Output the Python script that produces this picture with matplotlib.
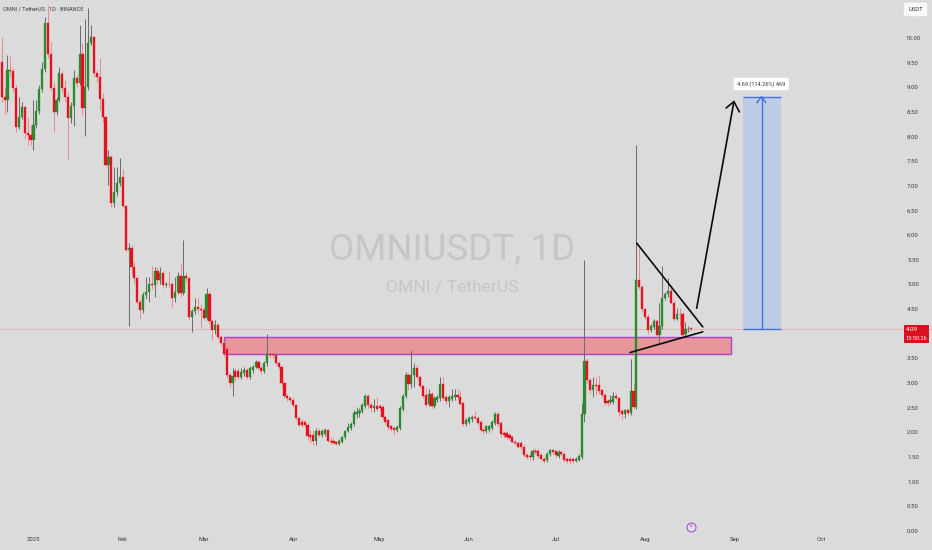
import numpy as np
import matplotlib
matplotlib.use("Agg")
import matplotlib.pyplot as plt
from matplotlib.patches import Rectangle

# Daily candles, first one is 2024-12-21 (day -11; day 0 = 2025-01-01)
first_day = -11
opens = [9.52,8.81,8.74,9.35,9.34,8.98,8.20,8.40,8.59,8.07,8.03,7.93,8.23,8.52,8.96,9.37,10.30,9.67,8.98,8.49,
 8.74,9.27,8.98,8.81,8.37,8.61,9.18,9.09,9.67,8.57,9.01,9.90,10.01,9.28,9.21,8.76,8.39,7.42,7.59,6.65,
 6.88,7.05,7.17,6.59,5.70,5.74,5.35,5.14,4.65,4.48,4.79,4.84,5.01,4.99,5.27,5.09,5.23,4.99,5.01,5.00,
 4.72,4.84,5.18,4.82,5.18,5.13,4.35,4.46,4.55,4.50,4.48,4.33,4.81,4.25,4.08,4.18,3.94,3.81,3.70,3.16,
 3.00,3.25,3.25,3.13,3.20,3.27,3.12,3.27,3.33,3.43,3.30,3.25,3.40,3.60,3.59,3.57,3.40,3.32,3.00,2.74,
 2.70,2.66,2.56,2.29,2.22,2.22,2.16,1.95,1.95,1.83,2.02,1.95,1.97,2.04,1.83,1.83,1.80,1.77,1.81,1.90,
 2.02,2.08,2.17,2.37,2.39,2.44,2.54,2.74,2.56,2.49,2.54,2.54,2.52,2.32,2.25,2.12,2.08,2.04,2.08,2.47,
 2.73,3.16,2.98,3.16,3.31,3.12,2.94,2.76,2.58,2.78,2.54,2.66,2.69,2.98,2.71,2.64,2.68,2.71,2.76,2.72,
 2.59,2.17,2.22,2.27,2.32,2.30,2.22,2.05,2.02,2.05,2.08,2.20,2.37,2.20,1.98,1.98,1.95,1.91,1.81,1.79,
 1.79,1.71,1.54,1.52,1.51,1.62,1.63,1.54,1.47,1.44,1.56,1.64,1.63,1.52,1.61,1.57,1.47,1.47,1.47,1.43,
 1.45,1.51,2.37,3.45,3.06,2.86,2.96,2.96,2.85,2.76,2.64,2.62,2.62,2.74,2.69,2.44,2.37,2.45,2.40,2.83,
 2.52,5.09,4.94,4.50,4.35,4.08,4.14,4.25,3.98,4.15,4.72,4.80,4.86,4.63,4.30,4.41,4.40,3.99,4.09,4.11]
closes = [8.81,8.74,9.35,9.34,8.98,8.20,8.40,8.59,8.07,8.03,7.93,8.23,8.52,8.96,9.37,10.30,9.67,8.98,8.49,8.74,
 9.28,8.98,8.81,8.37,8.61,9.18,9.09,9.67,8.57,9.01,9.90,10.01,9.28,9.21,8.76,8.39,7.42,7.59,6.65,6.88,
 7.05,7.17,6.59,5.70,5.74,5.35,5.14,4.65,4.48,4.79,4.84,5.01,4.99,5.27,5.09,5.23,4.99,5.01,5.00,4.72,
 4.84,5.18,4.82,5.18,5.13,4.35,4.46,4.55,4.50,4.48,4.33,4.81,4.25,4.08,4.18,3.94,3.81,3.60,3.16,3.00,
 3.14,3.13,3.13,3.23,3.27,3.12,3.30,3.33,3.43,3.30,3.25,3.40,3.59,3.57,3.57,3.40,3.32,3.00,2.74,2.69,
 2.66,2.56,2.29,2.15,2.15,2.15,1.93,1.91,1.83,2.02,1.95,2.02,2.04,1.83,1.81,1.79,1.77,1.83,1.90,2.02,
 2.10,2.18,2.39,2.42,2.44,2.56,2.74,2.56,2.49,2.54,2.48,2.49,2.32,2.22,2.10,2.06,2.04,2.10,2.49,2.74,
 3.16,2.98,3.16,3.31,3.12,2.94,2.74,2.56,2.78,2.54,2.69,2.71,2.98,2.69,2.64,2.71,2.74,2.76,2.71,2.58,
 2.18,2.25,2.29,2.32,2.29,2.20,2.04,2.02,2.12,2.12,2.22,2.37,2.18,1.97,1.95,1.91,1.88,1.81,1.78,1.71,
 1.70,1.54,1.51,1.51,1.63,1.60,1.52,1.47,1.43,1.56,1.64,1.61,1.54,1.61,1.56,1.44,1.43,1.41,1.43,1.47,
 1.52,2.37,3.45,3.06,2.86,2.96,2.95,2.83,2.76,2.59,2.60,2.66,2.73,2.69,2.42,2.37,2.45,2.40,2.83,2.52,
 5.09,4.94,4.50,4.34,4.08,4.15,4.25,3.98,4.15,4.73,4.81,4.87,4.63,4.30,4.40,4.40,3.98,4.09,4.10,4.09]
highs = [10.01,9.01,9.65,9.63,9.40,9.05,8.81,8.71,8.62,8.40,8.23,8.74,8.74,9.05,9.52,10.43,10.67,9.92,9.10,8.80,
 9.42,9.32,9.15,8.90,8.70,9.35,9.25,10.26,9.89,10.38,10.60,10.26,10.03,9.35,9.59,8.88,8.42,7.73,7.62,7.39,
 7.39,7.56,7.34,6.62,5.85,5.80,5.45,5.15,4.70,4.85,5.16,5.16,5.37,5.36,5.36,5.36,5.28,5.05,5.28,5.05,
 5.16,5.25,5.43,5.90,5.25,5.15,4.50,4.72,4.72,4.60,4.55,4.92,4.85,4.30,4.28,4.22,3.98,3.85,3.75,3.20,
 3.30,3.30,3.30,3.30,3.32,3.30,3.34,3.37,3.47,3.46,3.35,3.44,3.99,3.65,3.62,3.60,3.44,3.35,3.02,2.78,
 2.74,2.70,2.58,2.32,2.28,2.25,2.20,2.05,2.05,2.08,2.08,2.06,2.08,2.07,1.90,1.88,1.83,1.87,1.93,2.05,
 2.20,2.22,2.45,2.51,2.50,2.60,2.78,2.77,2.62,2.67,2.71,2.58,2.55,2.36,2.28,2.16,2.12,2.15,2.53,2.78,
 3.22,3.20,3.67,3.40,3.37,3.15,2.97,2.90,2.88,2.82,2.73,2.75,3.12,3.13,2.75,2.75,2.89,2.89,2.89,2.83,
 2.62,2.30,2.33,2.36,2.44,2.34,2.25,2.09,2.16,2.15,2.26,2.42,2.42,2.23,2.03,2.02,1.98,1.95,1.85,1.83,
 1.82,1.74,1.58,1.58,1.66,1.68,1.66,1.58,1.50,1.60,1.66,1.66,1.65,1.65,1.64,1.60,1.50,1.50,1.51,1.50,
 1.56,2.60,5.50,3.50,3.10,3.13,3.13,3.16,2.88,2.80,2.68,2.75,2.81,2.80,2.72,2.47,2.48,2.48,3.48,2.98,
 7.83,5.77,4.98,4.53,4.40,4.20,4.30,4.28,4.63,5.38,4.85,5.13,4.96,4.68,4.52,4.52,4.45,4.23,4.15,4.13]
lows = [8.71,8.44,8.50,9.20,8.90,8.10,8.15,8.35,7.96,7.83,7.83,7.73,8.18,8.45,8.90,9.30,9.60,8.95,8.10,8.44,
 8.70,8.90,8.70,7.54,8.27,8.21,9.00,9.05,8.44,8.01,8.95,9.85,9.20,9.10,8.54,8.30,7.40,7.02,6.58,6.58,
 6.80,7.00,6.55,5.65,4.15,5.20,5.00,4.60,4.31,4.42,4.70,4.65,4.90,4.75,5.00,5.00,4.92,4.95,4.95,4.55,
 4.65,4.80,4.75,4.78,5.05,4.28,4.04,4.40,4.42,4.11,4.28,4.28,4.20,3.87,4.00,3.90,3.75,3.55,3.10,2.93,
 2.74,3.05,3.08,3.08,3.15,3.08,3.08,3.20,3.30,3.28,3.18,3.20,3.35,3.50,3.50,3.36,3.28,2.95,2.70,2.64,
 2.62,2.52,2.26,2.12,2.10,2.10,1.85,1.78,1.75,1.75,1.90,1.90,1.93,1.80,1.77,1.76,1.74,1.74,1.78,1.87,
 2.00,2.05,2.12,2.30,2.32,2.40,2.50,2.50,2.42,2.42,2.44,2.45,2.28,2.18,2.05,2.02,1.95,2.00,2.05,2.44,
 2.70,2.85,2.90,2.93,3.08,2.90,2.70,2.52,2.53,2.50,2.50,2.62,2.64,2.65,2.58,2.52,2.63,2.65,2.66,2.55,
 2.14,2.12,2.18,2.22,2.25,2.15,2.00,1.97,1.98,2.00,2.05,2.16,2.14,1.90,1.88,1.86,1.84,1.78,1.75,1.68,
 1.65,1.50,1.46,1.44,1.44,1.56,1.48,1.44,1.38,1.40,1.52,1.56,1.50,1.48,1.52,1.40,1.38,1.36,1.38,1.40,
 1.42,1.47,2.22,3.00,2.80,2.72,2.76,2.78,2.72,2.55,2.53,2.58,2.58,2.65,2.33,2.28,2.30,2.36,2.36,2.48,
 2.48,4.90,4.45,4.30,4.00,4.04,4.10,3.93,3.81,4.10,4.68,4.75,4.60,4.25,4.27,4.15,3.94,3.95,4.04,4.06]

last_price = 4.09
y_ticks = [0,0.5,1,1.5,2,2.5,3,3.5,4.5,5,5.5,6,6.5,7,7.5,8,8.5,9,9.5,10]
x_tick_days = [0,31,59,90,120,151,181,212,243,273]
x_tick_labels = ["2025","Feb","Mar","Apr","May","Jun","Jul","Aug","Sep","Oct"]

# Drawings: day positions and prices
zone_days = [66.1, 241.8]
zone_prices = [3.59, 3.935]
fall_days, fall_prices = [209.1, 232.0], [5.84, 4.14]
rise_days, rise_prices = [206.8, 232.0], [3.62, 4.04]
arrow_days, arrow_prices = [229.9, 242.8], [4.52, 8.71]
arrow_head_days, arrow_head_prices = [240.1, 242.8, 244.7], [8.58, 8.71, 8.50]
target_days = [245.9, 259.0]
target_prices = [4.09, 8.81]
target_mid = 252.4
target_head_days, target_head_prices = [250.8, 252.4, 253.8], [8.69, 8.81, 8.69]

BG = "#dbdbdb"
RED = "#e6101e"
GREEN = "#2b8a2e"
TXT = "#3a3a3a"
plt.rcParams["font.family"] = ["Roboto", "DejaVu Sans"]

fig = plt.figure(figsize=(9.32, 5.5), dpi=100, facecolor=BG)
ax = fig.add_axes([0, 0, 1, 1], facecolor=BG)
ax.set_xlim(-11.59, 311.46)
ax.set_ylim(-0.385, 10.77)
for s in ax.spines.values():
    s.set_visible(False)

o, c, h, l = map(np.array, (opens, closes, highs, lows))
days = first_day + np.arange(len(o))
up = c >= o

# zone behind the candles
ax.add_patch(Rectangle((zone_days[0], zone_prices[0]), zone_days[1]-zone_days[0], zone_prices[1]-zone_prices[0],
                       facecolor="#e8959b", edgecolor="#b040c8", lw=1.0, zorder=1))
ax.axhline(last_price, color="#e6b0b0", lw=0.7, zorder=1)

ax.vlines(days[up], l[up], h[up], color="#6a6a6a", lw=0.7, zorder=2)
ax.vlines(days[~up], l[~up], h[~up], color="#ea8a8a", lw=0.7, zorder=2)
ax.bar(days[up], (c-o)[up], bottom=o[up], width=0.75, color=GREEN, edgecolor=GREEN, lw=0.25, zorder=3)
ax.bar(days[~up], (o-c)[~up], bottom=c[~up], width=0.75, color=RED, edgecolor=RED, lw=0.25, zorder=3)

# target box
ax.add_patch(Rectangle((target_days[0], target_prices[0]), target_days[1]-target_days[0], target_prices[1]-target_prices[0],
                       facecolor="#bfcce6", edgecolor="none", zorder=1))
BLUE = "#3f6fe0"
ax.hlines(target_prices, target_days[0], target_days[1], color=BLUE, lw=1.0, zorder=4)
ax.vlines(target_mid, target_prices[0], target_prices[1], color=BLUE, lw=1.0, zorder=4)
ax.plot(target_head_days, target_head_prices, color=BLUE, lw=1.0, zorder=4)

# hand drawn lines
for xs, ys in [(fall_days, fall_prices), (rise_days, rise_prices),
               (arrow_days, arrow_prices), (arrow_head_days, arrow_head_prices)]:
    ax.plot(xs, ys, color="#0a0a0a", lw=1.2, zorder=5, solid_capstyle="round")

# watermark
ax.text(0.4855, 0.5455, "OMNIUSDT, 1D", transform=ax.transAxes, ha="center", va="center",
        fontsize=26.5, color="#c6c6c6", zorder=0.5)
ax.text(0.4855, 0.4765, "OMNI / TetherUS", transform=ax.transAxes, ha="center", va="center",
        fontsize=12.6, color="#c6c6c6", zorder=0.5)

# header
ax.text(3/932, 1-9/550, "OMNI / TetherUS · 1D · BINANCE", transform=ax.transAxes,
        ha="left", va="center", fontsize=4.0, color=TXT, zorder=6)

# axis labels inside the figure
ax.yaxis.tick_right()
ax.set_yticks(y_ticks)
ax.set_yticklabels([f"{v:.2f}" for v in y_ticks])
ax.tick_params(axis="y", length=0, pad=-13.7, labelsize=4.3, labelcolor=TXT)
for t in ax.get_yticklabels():
    t.set_ha("center")
ax.set_xticks(x_tick_days)
ax.set_xticklabels(x_tick_labels)
ax.tick_params(axis="x", length=0, pad=-9.6, labelsize=4.3, labelcolor=TXT)

# current price label
ax.add_patch(Rectangle((904/932, 1-343/550), 25/932, 18/550, transform=ax.transAxes,
                       facecolor="#d8101f", edgecolor="none", zorder=6))
ax.text(906/932, 1-329.5/550, f"{last_price:.2f}", transform=ax.transAxes, ha="left", va="center",
        fontsize=4.4, color="white", zorder=7)
ax.text(916.5/932, 1-338/550, "13:50:26", transform=ax.transAxes, ha="center", va="center",
        fontsize=4.1, color="white", zorder=7)

# USDT box
ax.text(915.5/932, 1-9.5/550, "USDT", transform=ax.transAxes, ha="center", va="center", fontsize=4.2, color=TXT, zorder=7,
        bbox=dict(boxstyle="round,pad=0.8,rounding_size=0.3", fc="#fafafa", ec="#d0d0d0", lw=0.3))

# measure label
ax.text(761.3/932, 1-84/550, "4.69 (114.26%) 469", transform=ax.transAxes, ha="center", va="center",
        fontsize=4.1, color=TXT, zorder=7,
        bbox=dict(boxstyle="round,pad=0.6,rounding_size=0.3", fc="white", ec="none"))

# event icon
ax.scatter([690.7/932], [1-526.7/550], transform=ax.transAxes, s=42, facecolor="#e6dcea", edgecolor="#a040c0", lw=0.7, zorder=6)
ax.text(690.7/932, 1-526.7/550, "\u26a1", transform=ax.transAxes, ha="center", va="center", fontsize=4.5,
        color="#a040c0", family="DejaVu Sans", zorder=7)

fig.savefig("out.png", dpi=100, facecolor=BG)
